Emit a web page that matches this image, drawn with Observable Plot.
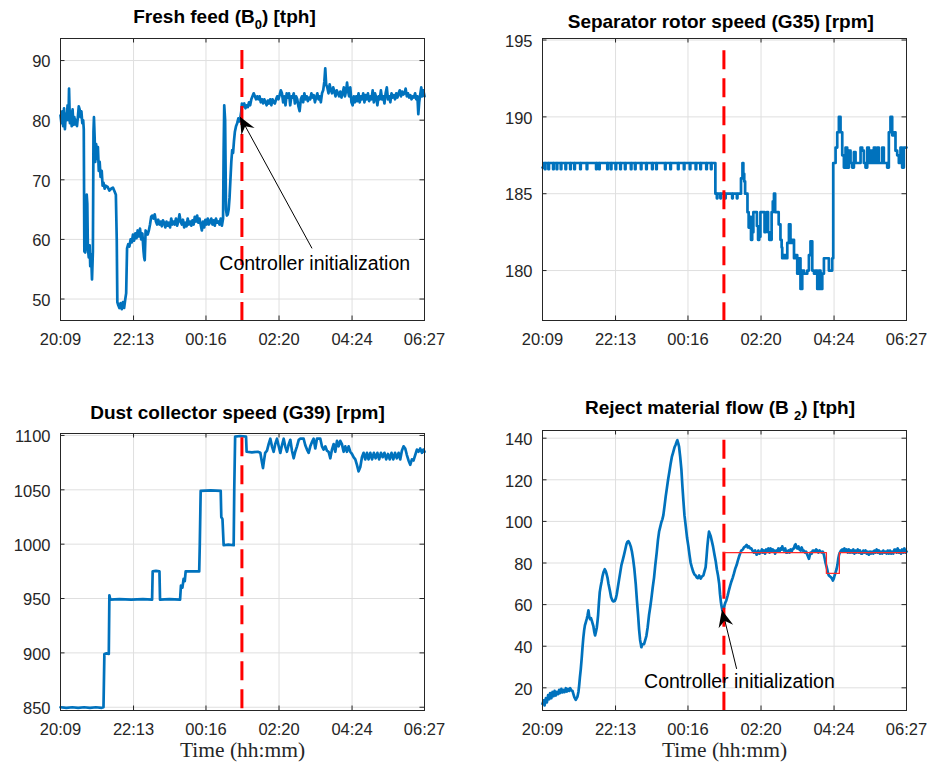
<!DOCTYPE html>
<html>
<head>
<meta charset="utf-8">
<script src="https://cdn.jsdelivr.net/npm/d3@7"></script>
<script src="https://cdn.jsdelivr.net/npm/@observablehq/plot@0.6"></script>
<style>
  body { margin: 0; background: #fff; }
  #chart { position: relative; width: 927px; height: 764px; overflow: hidden;
           font-family: "Liberation Sans", Arial, Helvetica, sans-serif; }
  .title { position: absolute; font-weight: bold; font-size: 19px; line-height: 19px;
           white-space: nowrap; color: #000; transform: translateX(-50%); }
  .sub { position: relative; font-size: 13px; top: 6.6px; }
</style>
</head>
<body>
<div id="chart"></div>
<script>
// Time axis: minutes after 20:09, ticks every ~124 min up to 06:27
const xTicks = [0, 124, 247, 371, 495, 618];
const xTickLabels = ["20:09", "22:13", "00:16", "02:20", "04:24", "06:27"];
const initTime = 308; // controller switched on (~01:17)

// Fresh feed B0 [tph]
const feedTicks = [50, 60, 70, 80, 90];
const feed = [
  [0,80.8],[1.5,79.5],[3,81.5],[4.5,79],[6,82],[7.5,78.5],[9,81],[10.5,80],[12,82.5],[13.5,80],[14.5,85.3],[16,79.5],[17.5,81.5],[19,79],[20.5,81.8],[22,79.2],[23.5,80.5],[25,79.3],[26.5,80],[28,79],[29.5,80.5],[31,82.3],[32.5,81.8],[34,80.5],[35.5,81.5],[37,79.5],[38.5,80],[39.5,78.5],
  [40.5,58],[42,57.8],[43.5,60],[44.5,67.5],[45.5,66],[46.5,58.5],[48,57],[49.5,59],[50.5,55.5],[52,57.5],[53.5,53.3],[55,58],[56,78],[56.8,80.5],[58,77],[59,73],[60.5,76],[62,73.5],[63.5,75.5],[65,71.5],[66.5,73],[68,70.5],[70,71.5],[71.5,69],[73,69.5],[75,68.5],[77,69],[80,68.8],[83,68.2],[86,68.5],[89,68.7],[92,68],[94,67.5],
  [95.5,60],[96.5,49.5],[98,49],[100,48.5],[102,49.3],[104,48.3],[106,49.5],[108,48.5],[110,50],[111.5,51],[113,58.5],[115,59.2],[117,58.8],[119,60],[121,59.5],[123,60.8],[125,59.8],[127,61],[129,60.2],[131,61.5],[133,60.5],[135,61.8],[137,60],[139,61],[141,58],[142,57],[143,56.5],[144.5,61.5],[146,61],[148,60.8],[150,61.5],[152,62.5],[154,63.8],[156,64],[158,63.5],[160,64.2],
  [162,63],[164,62.5],[166,63.3],[168,62.5],[170,63],[172,62.2],[174,63.2],[176,62.8],[178,62],[180,63],[182,62.3],[184,62.8],[186,62],[188,63.5],[190,62.5],[192,63],[194,62.5],[196,63.5],[198,62.3],[200,63],[202,64.2],[204,63],[206,62.5],[208,63.3],[210,62],[212,62.8],[214,62.2],[216,63.5],[218,62.5],[220,63],[222,62.3],[224,63.2],[226,62.5],[228,63.8],[230,63],[232,64],[234,62.8],[236,63.5],[238,62.5],[240,61.5],[242,63],[244,62],[246,63.3],[248,62.5],[250,63.5],[252,62.5],[254,63],[256,63.5],[258,62.5],[260,63.2],[262,62.3],[264,63.5],[266,62.8],[268,63],[270,62.5],[272,63.5],[274,62.3],[276,63.5],
  [277,75],[278,82.5],[279.5,80],[281,65],[282.5,64],[284,64.2],[285.5,65],[287,67],[288.5,70],[290,73],[291.5,75],[293,74.5],[294.5,76.5],[296,78],[298,79],[300,79.5],[302,80.3],[304,79.8],[305.5,80.5],[307,81.5],[308,82.8],[310,82.3],[312,82.8],[314,82],[316,82.5],[318,82.2],[320,83],[322,82.5],[324,83.5],[326,84],[328,84.5],[330,84],[332,83.5],[334,84],[336,83.5],[338,84],[340,83],[342,83.5],[344,82.8],[346,83.5],[348,83],[350,82.5],[352,83.3],[354,82.8],[356,83.5],[358,82.5],[360,83.5],[362,83],[364,82.8],[366,83.5],[368,84],[370,83.5],[372,84.2],[374,85],[376,84.5],[378,83],[380,84],[382,82.5],[384,84.5],[386,83.8],[388,84.5],[390,82.5],[392,84],[394,83.8],[396,84.5],[398,82.8],[400,84],[402,83.5],[404,82.3],[406,81.5],[408,83.5],[410,84],[412,83],[414,84.5],[416,83.5],[418,84],[420,83.2],[422,83.8],[424,83.5],[426,84.5],[428,83.8],[430,84.2],[432,83],[434,83.8],[436,84.5],[438,83.5],[440,84],[442,83],[444,84.5],[446,85],[448,86.5],[449.5,88.7],[451,86],[453,85.5],[455,84.5],[457,86],[459,85],[461,84.5],[463,85.5],[465,84.8],[467,84],[469,85],[471,84.5],[473,84],[475,84.8],[477,83.8],[479,84.5],[481,85.5],[483,84],[485,85],[486.5,86.3],[488,85],[490,84],[492,85.5],[494,83],[496,82.5],[498,84],[500,83],[502,84],[504,83.2],[506,84.5],[508,83],[510,84],[512,83.5],[514,84.5],[516,83],[518,84.2],[520,83.5],[522,84.5],[524,83.2],[526,84],[528,83.5],[530,85],[532,83],[534,84.5],[536,83.8],[538,82.5],[540,84],[542,83.5],[544,85],[546,83.5],[548,84],[550,82.8],[552,84.5],[554,85.5],[556,83.5],[558,84],[560,83],[562,84.5],[564,83.8],[566,84.2],[568,83.5],[570,84.5],[572,83.8],[574,84.5],[576,85],[578,84],[580,84.8],[582,84.3],[584,84.5],[586,85.3],[588,84],[590,84.5],[592,83.8],[594,84.2],[596,83.5],[598,84],[600,83.8],[602,84.5],[604,83.5],[606,84],[607.5,81],[609,83],[611,84.5],[612.5,85.5],[614,84],[616,85],[618,84]
];

// Separator rotor speed G35 [rpm] (quantised set values, held between samples)
const rotorTicks = [180, 185, 190, 195];
const rotor = [
  [0,186.7],[2,187],[4,186.6],[5,187],[10,186.6],[11,187],[18,186.6],[19,187],[24,186.6],[25,187],[31,186.6],[32,187],[39,186.6],[40,187],[47,186.6],[48,187],[54,186.6],[55,187],[64,186.6],[65,187],[75,186.6],[76,187],[91,186.6],[92,187],[96,186.6],[97,187],[110,186.6],[111,187],[116,186.6],[117,187],[124,186.6],[125,187],[132,186.6],[133,187],[140,186.6],[141,187],[150,186.6],[151,187],[157,186.6],[158,187],[167,186.6],[168,187],[176,186.6],[177,187],[186,186.6],[187,187],[193,186.6],[194,187],[208,186.6],[209,187],[217,186.6],[218,187],[230,186.6],[231,187],[240,186.6],[241,187],[250,186.6],[251,187],[260,186.6],[261,187],[268,186.6],[269,187],[278,186.6],[279,187],[286,186.6],[287,187],[292,187],
  [293.5,185],[296,184.7],[297,185],[302,184.7],[303,185],[310,184.7],[311,185],[318,185],[322,184.7],[323,185],[330,184.7],[331,185],[335,185],[337,186],[339.5,187],[341,186.3],[342.5,185.8],[344,185],[346,185],[348,183.8],[350,182.8],[352,183.5],[354,182],[356,182.5],[358,183.8],[360,183.8],[362,183.8],[364,182.9],[366,182],[368,182.2],[370,183.8],[372,183.8],[375,183.8],[377,182.5],[379,183],[381,183.8],[383,182.5],[385,182],[387,182],[389,183.8],[391,184.5],[393,185],[395,183.8],[398,183.8],[401,183],[404,182],[406,181.5],[407,180.8],[410,181],[412.7,180.8],[415.6,181.8],[418.4,183],[421,181.8],[424,182],[427,180.8],[429.7,181],[432.5,179.8],[435,180.8],[438,178.8],[441,180],[444,179.8],[449.5,180],[452.3,181],[455,181.9],[458,180],[461,179.8],[463.6,180],[466.5,178.8],[469.3,180],[472,178.8],[475,179.8],[477.8,180.8],[480.6,180.8],[483.4,180.8],[486.2,180],[489,180],[491.9,180.8],
  [493.6,187],[497.6,188],[500.4,189],[503.2,190],[506,189],[508.9,187.5],[511.7,186.7],[514.5,188],[517.3,186.7],[520.2,187.8],[523,187],[525.8,186.7],[528.7,187.7],[531.5,187],[534.3,187],[537,187],[540,188],[542.8,187.8],[545.6,187],[548.4,186.7],[551.3,188],[554.1,187],[556.9,187.8],[559.7,187],[562.6,188],[565.4,187],[568.2,188],[571,187],[573.9,187],[576.7,188],[579.5,187],[582.4,187],[585.2,186.7],[588,189],[590.8,190],[593.7,188.8],[596.5,189],[599.3,187.8],[602.2,187.5],[605,187],[607.8,188],[610.6,186.7],[613.5,188],[618,188]
];

// Dust collector speed G39 [rpm]
const dustTicks = [850, 900, 950, 1000, 1050, 1100];
const dust = [
  [0,850],[10,849.5],[20,850],[30,849.5],[40,850],[50,849.5],[60,850],[70,849.5],[73,850],[74.5,899],[78,899.5],[82,899],[83,953],[84.5,949],[100,949.5],[120,949],[140,949.5],[155.5,949],[156.5,975],[162,975.5],[168,975],[169,949],[185,949.5],[203,949],[204.5,962],[207,960],[209,968],[211,966],[212.5,975],[225,975],[235.5,975],[236.5,1000],[238,1049],[255,1049.5],[272,1049],[273,1025],[275,1023],[277,999],[285,999.5],[294,999],[295,1050],[296.5,1099],[305,1099.5],[315,1099],[316,1085],[325,1084.5],[335,1085],[339.3,1084],[341.5,1077],[343.8,1070],[345,1075],[347.5,1084],[350.6,1086],[353.4,1092],[356.3,1097],[359,1090],[361.9,1085],[364.5,1092],[367.6,1097],[370.5,1090],[373.2,1084],[376,1091],[378.9,1097],[381.5,1090],[384.5,1085],[387.5,1092],[390.2,1096],[393,1086],[395.9,1079],[398.5,1085],[401.5,1090],[404.5,1096],[407.2,1097],[410,1097],[412.8,1097],[415.6,1091],[418.5,1087],[421.3,1084],[424.1,1090],[427,1094],[429.8,1097],[432.6,1088],[435.4,1097],[438.3,1097],[441.1,1097],[443.9,1090],[446.7,1087],[449.6,1090],[452.4,1086],[455.2,1085],[458.1,1079],[460.9,1087],[463.7,1092],[466.5,1085],[469.4,1095],[472.2,1090],[475,1095],[477.8,1092],[480.7,1085],[483.5,1090],[486.3,1085],[489.2,1090],[492,1085],[494.8,1083],[497.6,1080],[500.5,1078],[503.3,1073],[506.1,1067],[509,1071],[511.8,1080],[514.6,1084],[517.4,1078],[520.3,1084],[523,1078],[526,1084],[529,1078],[532,1084],[535,1079],[538,1084],[541,1078],[544,1084],[547,1080],[550,1084],[553,1078],[556,1083],[559,1078],[562,1084],[565,1078],[568,1084],[571,1079],[574,1084],[576.8,1078],[579.6,1086],[582.5,1090],[585.3,1088],[588.1,1082],[590.9,1077],[593.8,1073],[596.6,1078],[599.4,1077],[602.2,1082],[605.1,1087],[607.9,1085],[610.7,1088],[613.6,1084],[616,1087],[618,1085]
];

// Reject material flow B2 [tph] and its set point
const rejectTicks = [20, 40, 60, 80, 100, 120, 140];
const reject = [
  [0,12.3],[2,14],[3.5,11.5],[5.7,15],[7.5,13],[9.5,16.5],[11.3,14.5],[13,17.5],[15,15],[17,18],[19,16],[20.5,18.5],[22.6,16.3],[24.5,18],[26.5,17],[28.3,19],[30,17.5],[32,19.5],[33.9,17.8],[35.5,19],[37.5,18],[39.6,19.8],[41.5,18.2],[43.5,19.5],[45.2,18.5],[47,19.8],[49,18.8],[50.9,18.5],[52.5,17],[54,15.5],[56.5,14.2],[58,15],[59.4,15.8],[61,18],[62.2,21],[63.5,25],[65,29],[66.5,34],[67.8,39],[69.3,44],[70.7,47.6],[72,50],[73.5,51.5],[75,53],[76.3,54.5],[77.2,56],[78,57.2],[79.5,54],[80.9,53],[82.3,53.5],[83.7,52.3],[85,51],[86.5,49.5],[87.8,47],[89.3,45.2],[90.8,47],[92.2,49],[93.4,52],[94.4,55],[95.8,61],[97.2,66],[98.9,69],[100.3,71],[101.8,73.5],[103.5,75.5],[105.7,77],[107.5,76],[109,74.5],[110.3,73],[112,70],[114.2,67],[116.5,63.5],[118.7,62],[120.5,61.5],[122.7,61.8],[124.5,63],[126.1,65],[128,68.5],[130,72],[132,75.5],[134,79],[136.3,81.5],[138.5,84],[140.5,86.5],[142.5,89],[144.2,90.2],[145.9,90.5],[147.8,89.5],[149.8,88],[151.8,85.5],[153.8,82],[156,77],[158.3,70],[160.3,62],[162.3,55],[164,48],[165.7,43],[167,41],[167.9,39.5],[169,40.5],[170.5,41],[172.4,41],[174.5,43],[176.4,45],[178.5,49],[180.9,55],[183,59],[184.9,63],[187,68],[189.4,73],[191.5,79],[193.9,85],[196,91],[197.9,95],[200,97.5],[201.8,99.6],[203.5,101],[205.2,103],[207,107],[209.2,112],[211.2,116],[213.2,120],[215.5,124],[217.7,128],[219.6,131],[221.6,133],[224,135.5],[226.2,137],[228,138.5],[229,139],[230.5,137.5],[231.8,136],[233.8,131],[235.8,125],[237.5,117],[239.2,110],[241,103],[243.1,98],[245.5,92],[247.7,88],[249.5,84],[251.6,80],[253.5,78],[255.6,76],[258,74.5],[260.1,74],[262,73],[264,72.7],[266,74],[268.6,72.5],[270.5,73.5],[273.1,74],[275,76],[277,78],[278.5,83],[279.9,88],[281.3,92],[282.7,95.1],[284,94],[285.5,93],[287.5,90.5],[289.5,88],[292,84],[294,81],[296,77],[298,74],[300,70],[301.4,65],[303,61],[304.2,59],[305.4,57.2],[306.4,57],[307.8,58],[309.3,60],[310.5,61],[312.1,62],[314.5,64.5],[316.6,67],[318.5,69],[320.6,71],[323,73],[325.1,75],[327.5,77.5],[329.6,79],[331.5,81],[333.6,83],[335.5,84.5],[337.5,86],[340,86.5],[342.1,87.5],[344.5,88],[346.6,88.7],[348.5,87.5],[350.5,88],[352.5,87],[354.5,87],[356.5,86],[359,85],[361,86],[363.6,84],[366.4,86],[368.5,84.5],[370.3,85],[372.5,86.5],[374,85],[376,86],[378,84.5],[379.8,86.5],[381.6,85.5],[383.5,87],[385.5,85],[387.3,87],[389.2,85.5],[391,86.5],[393,86],[395,84.5],[396.8,86],[398.6,85.5],[400.5,87],[402.4,85.5],[404.3,87],[406,86.5],[407.1,88],[408.5,86.5],[409.9,86],[412,87],[413.8,85],[415.6,85],[417.5,86],[419.4,85],[421.2,86.5],[423,85.5],[425,86.8],[426.9,87],[428.3,88.5],[429.7,89],[431.1,87.5],[432.5,87],[434.5,88],[436.3,86.5],[438.2,86],[440,87.5],[441.9,86],[443.8,86],[445.7,85],[447.6,85.5],[449.5,84],[451,83],[452.3,82],[453.7,83.5],[455.1,85],[457,84.5],[458.9,86],[460.8,86],[462.7,85.5],[464.6,86.5],[466.5,86],[468.4,85],[470.3,86],[472.1,85.5],[474,85],[475.9,85.5],[477.8,84],[479.2,82],[480.6,80],[482,78.5],[483.4,77],[484.8,75],[486.2,74],[488.2,73.5],[490.2,73],[491.6,72.5],[493,71.6],[494.5,72.5],[495.9,74],[497.6,75.5],[499.2,77],[500.7,79],[502.1,82],[503.5,84],[504.9,85],[506.9,86],[508.9,86.5],[510.7,85.5],[512.6,87],[514.5,85.5],[516.4,86.5],[518.3,85],[520.2,86.5],[522,85],[523.9,86],[525.8,85],[527.7,86.5],[529.6,84.5],[531.5,86],[533.4,85],[535.3,86.5],[537.1,85],[539,86],[540.9,84.5],[542.8,84.5],[544.7,86],[546.5,85],[548.4,86],[550.3,84.5],[552.2,85.5],[554.1,84],[556,85.5],[557.8,84.5],[559.7,85.5],[561.6,84.5],[563.5,86],[565.4,85],[567.3,86.5],[569.1,85],[571,86],[572.9,84.5],[574.8,85.5],[576.7,84.5],[578.6,86],[580.5,85],[582.4,85.5],[584.2,84.5],[586.1,86],[588,84.5],[589.9,86],[591.8,84.5],[593.7,85.5],[595.5,84.5],[597.4,86.5],[599.3,86.5],[601.2,85],[603.1,87],[605,85],[606.9,86],[608.7,84.5],[610.6,86.5],[612.5,85],[614.4,87],[616.3,85],[618,85.5]
];
const rejectSetpoint = [[308,85],[482,75],[504,85],[618,85]];

// Annotation arrows (tail -> tip) and label anchor, in data units
const feedNote = {tip: [305.4, 80.5], tail: [427, 58.5], label: [269.7, 56]};
const rejectNote = {tip: [305.4, 57.2], tail: [329.6, 29.1], label: [172.4, 22.8]};
const noteText = "Controller initialization";
const xLabelText = "Time (hh:mm)";

const BLUE = "#0072BD";
const INK = "#262626";
const GRID = "#dfdfdf";
const SANS = "'Liberation Sans', Arial, Helvetica, sans-serif";
const SERIF = "'Liberation Serif', 'Times New Roman', serif";
const tickLabel = new Map(xTicks.map((t, i) => [t, xTickLabels[i]]));

// Filled, notched arrow head drawn at the tip of an annotation
function arrowHead(note) {
  return (...args) => {
    const sc = args.find(a => a && typeof a.x === "function" && typeof a.y === "function");
    const tx = sc.x(note.tip[0]), ty = sc.y(note.tip[1]);
    const bx = sc.x(note.tail[0]), by = sc.y(note.tail[1]);
    const len = Math.hypot(bx - tx, by - ty);
    const ux = (bx - tx) / len, uy = (by - ty) / len;
    const L = 17, W = 7.5, N = 11, px = -uy, py = ux;
    const pts = [
      [tx, ty],
      [tx + ux * L + px * W, ty + uy * L + py * W],
      [tx + ux * N, ty + uy * N],
      [tx + ux * L - px * W, ty + uy * L - py * W]
    ];
    const path = document.createElementNS("http://www.w3.org/2000/svg", "path");
    path.setAttribute("d", "M" + pts.map(p => p.join(",")).join("L") + "Z");
    path.setAttribute("fill", "#000");
    return path;
  };
}

function panel(cfg) {
  const {series, curve, yDomain, yTicks, left, top, width, height, m, dashTop, setpoint, note, xLabel} = cfg;
  const fw = width - m.left - m.right;
  const fh = height - m.top - m.bottom;
  const marks = [
    Plot.gridX(xTicks, {stroke: GRID, strokeOpacity: 1}),
    Plot.gridY(yTicks, {stroke: GRID, strokeOpacity: 1}),
    Plot.ruleX(xTicks, {stroke: INK, insetTop: fh - 4.5}),
    Plot.ruleX(xTicks, {stroke: INK, insetBottom: fh - 4.5}),
    Plot.ruleY(yTicks, {stroke: INK, insetRight: fw - 4.5}),
    Plot.ruleY(yTicks, {stroke: INK, insetLeft: fw - 4.5}),
    Plot.axisX(xTicks, {tickSize: 0, tickPadding: 13, tickFormat: d => tickLabel.get(d), fill: INK, label: null}),
    Plot.axisY(yTicks, {tickSize: 0, tickPadding: 10, dy: 1.5, tickFormat: d => String(d), fill: INK, label: null}),
    Plot.line(series, {x: d => d[0], y: d => d[1], curve: curve || "linear", stroke: BLUE, strokeWidth: 2.7,
                       strokeLinejoin: "round", strokeLinecap: "round"}),
    Plot.ruleX([{x: initTime, y1: dashTop, y2: yDomain[0]}],
               {x: "x", y1: "y1", y2: "y2", stroke: "#ff0000", strokeWidth: 3, strokeDasharray: "19,9"})
  ];
  if (setpoint) {
    marks.push(Plot.line(setpoint, {x: d => d[0], y: d => d[1], curve: "step-after",
                                    stroke: "#ff2a2a", strokeWidth: 1.3}));
  }
  if (note) {
    marks.push(
      Plot.link([note], {x1: d => d.tail[0], y1: d => d.tail[1], x2: d => d.tip[0], y2: d => d.tip[1],
                         stroke: "#000", strokeWidth: 1}),
      arrowHead(note),
      Plot.text([note], {x: d => d.label[0], y: d => d.label[1], text: () => noteText,
                         textAnchor: "start", fontSize: 19.5, fill: "#000", fontFamily: SANS})
    );
  }
  if (xLabel) {
    marks.push(Plot.text([xLabelText], {frameAnchor: "bottom", text: d => d, dy: 46.5,
                                        fontFamily: SERIF, fontSize: 21.5, fill: INK}));
  }
  marks.push(Plot.frame({stroke: INK, strokeWidth: 1}));
  return Plot.plot({
    width, height,
    marginLeft: m.left, marginRight: m.right, marginTop: m.top, marginBottom: m.bottom,
    style: {position: "absolute", left: left + "px", top: top + "px", fontFamily: SANS,
            fontSize: "16.5px", color: INK, background: "transparent", overflow: "visible"},
    x: {domain: [0, 618]},
    y: {domain: yDomain},
    marks
  });
}

const chart = document.getElementById("chart");
chart.append(
  panel({series: feed, yDomain: [46.4, 93.7], yTicks: feedTicks, left: 0, top: 0, width: 460, height: 360,
         m: {left: 60, right: 36, top: 38, bottom: 40}, dashTop: 91.7, note: feedNote}),
  panel({series: rotor, curve: "step-after", yDomain: [176.75, 195.1], yTicks: rotorTicks, left: 460, top: 0,
         width: 467, height: 360, m: {left: 82, right: 21, top: 38, bottom: 40}, dashTop: 194.3}),
  panel({series: dust, yDomain: [847, 1101.8], yTicks: dustTicks, left: 0, top: 390, width: 460, height: 374,
         m: {left: 60, right: 36, top: 43, bottom: 54}, dashTop: 1098, xLabel: true}),
  panel({series: reject, yDomain: [9.1, 143.7], yTicks: rejectTicks, left: 460, top: 390, width: 467, height: 374,
         m: {left: 82, right: 21, top: 40, bottom: 54}, dashTop: 139, setpoint: rejectSetpoint,
         note: rejectNote, xLabel: true})
);

// Panel titles (with subscripts)
const titles = [
  {html: 'Fresh feed (B<span class="sub">0</span>) [tph]', cx: 224.5, top: 6.6},
  {html: 'Separator rotor speed (G35) [rpm]', cx: 720.8, top: 12.2},
  {html: 'Dust collector speed (G39) [rpm]', cx: 237.5, top: 403.2},
  {html: 'Reject material flow (B <span class="sub">2</span>) [tph]', cx: 720, top: 397.9}
];
for (const t of titles) {
  const div = document.createElement("div");
  div.className = "title";
  div.style.left = t.cx + "px";
  div.style.top = t.top + "px";
  div.innerHTML = t.html;
  chart.append(div);
}
</script>
</body>
</html>
